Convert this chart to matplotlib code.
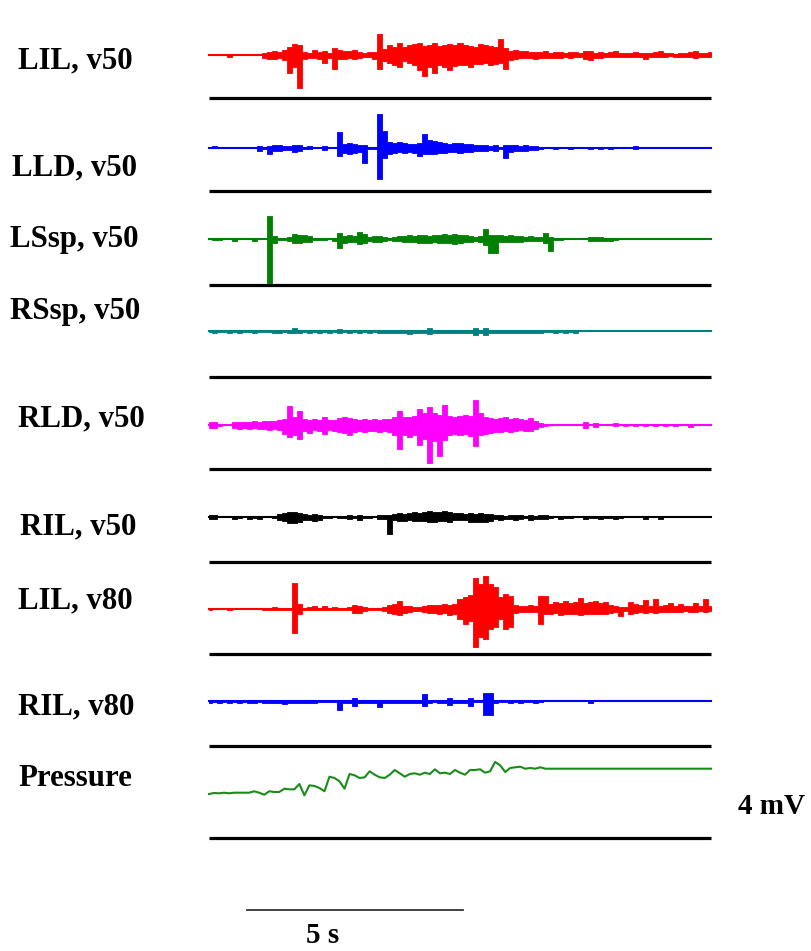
import numpy as np
import matplotlib.pyplot as plt

# EMG envelopes, one value every 1/100 of the record.
# Amplitudes in picture units (1 unit ~ 0.043 mV), up = above baseline, down = below.
T = 11.62  # record length, s (5 s bar = 216 px)

labels = ['LIL, v50', 'LLD, v50', 'LSsp, v50', 'RSsp, v50', 'RLD, v50',
          'RIL, v50', 'LIL, v80', 'RIL, v80']
colors = ['#ff0000', '#0000ff', '#008000', '#008080', '#ff00ff',
          '#000000', '#ff0000', '#0000ff']

lil50_up = [0, 0, 0, 0, 0, 0, 0, 0, 0, 0,
            0, 2, 3, 4, 3, 5, 8, 11, 10, 3,
            2, 5, 3, 4, 2, 7, 5, 4, 4, 5,
            3, 2, 3, 3, 21, 6, 10, 8, 12, 8,
            10, 11, 12, 9, 10, 12, 9, 10, 11, 10,
            12, 10, 9, 8, 11, 10, 9, 8, 16, 7,
            4, 5, 4, 4, 3, 3, 3, 4, 2, 3,
            3, 2, 3, 3, 2, 4, 4, 2, 3, 2,
            3, 4, 2, 2, 2, 3, 2, 2, 2, 3,
            4, 2, 2, 1, 2, 2, 3, 4, 2, 2,
            3]
lil50_dn = [0, 0, 0, 0, 2, 0, 0, 0, 0, 0,
            0, 3, 4, 4, 3, 5, 18, 12, 33, 4,
            3, 3, 4, 8, 3, 14, 4, 4, 3, 4,
            3, 2, 2, 4, 14, 6, 8, 10, 12, 6,
            8, 10, 15, 21, 12, 18, 10, 12, 15, 11,
            10, 10, 12, 9, 9, 8, 10, 9, 8, 14,
            5, 4, 3, 3, 3, 4, 3, 3, 3, 3,
            3, 2, 3, 2, 2, 4, 5, 3, 3, 2,
            2, 2, 2, 2, 2, 2, 2, 4, 2, 2,
            2, 2, 1, 2, 2, 2, 2, 3, 2, 2,
            2]

lld50_up = [0, 2, 0, 0, 0, 0, 0, 0, 0, 0,
            2, 1, 2, 3, 3, 2, 2, 3, 3, 1,
            2, 0, 0, 2, 0, 0, 16, 4, 5, 4,
            3, 3, 1, 1, 34, 17, 6, 5, 6, 5,
            4, 4, 5, 14, 8, 7, 6, 5, 4, 5,
            5, 4, 4, 3, 3, 3, 2, 3, 1, 3,
            3, 3, 2, 3, 2, 2, 1, 0, 0, 1,
            0, 0, 1, 0, 0, 0, 1, 0, 1, 0,
            1, 0, 0, 0, 0, 2, 0, 0, 0, 0,
            0, 0, 0, 0, 0, 0, 0, 0, 0, 0,
            0]
lld50_dn = [0, 0, 0, 0, 0, 0, 0, 0, 0, 0,
            3, 1, 6, 3, 3, 2, 2, 4, 3, 1,
            1, 0, 0, 2, 0, 0, 8, 5, 6, 5,
            4, 15, 1, 1, 31, 10, 6, 5, 4, 5,
            4, 5, 8, 6, 6, 6, 5, 5, 4, 4,
            5, 4, 4, 3, 3, 3, 2, 3, 1, 10,
            4, 3, 3, 3, 2, 2, 1, 0, 0, 1,
            0, 0, 1, 0, 0, 0, 1, 0, 1, 0,
            1, 0, 0, 0, 0, 1, 0, 0, 0, 0,
            0, 0, 0, 0, 0, 0, 0, 0, 0, 0,
            0]

lssp50_up = [0, 0, 0, 0, 0, 0, 0, 0, 0, 0,
             0, 0, 23, 3, 1, 1, 2, 5, 4, 4,
             3, 1, 1, 1, 0, 1, 6, 3, 4, 3,
             7, 5, 2, 3, 3, 2, 1, 2, 3, 3,
             4, 3, 4, 4, 3, 4, 4, 5, 4, 5,
             4, 4, 3, 2, 3, 10, 4, 4, 4, 3,
             4, 3, 3, 2, 3, 2, 2, 6, 2, 1,
             1, 0, 0, 0, 0, 0, 2, 2, 2, 1,
             1, 1, 0, 0, 0, 0, 0, 0, 0, 0,
             0, 0, 0, 0, 0, 0, 0, 0, 0, 0,
             0]
lssp50_dn = [0, 1, 1, 0, 0, 2, 0, 0, 0, 2,
             0, 0, 44, 4, 1, 1, 2, 4, 4, 3,
             3, 1, 1, 1, 0, 2, 9, 4, 3, 3,
             5, 4, 2, 3, 3, 2, 1, 2, 2, 3,
             3, 3, 4, 4, 4, 3, 4, 4, 4, 5,
             4, 3, 3, 2, 3, 6, 14, 14, 3, 3,
             3, 3, 3, 2, 2, 2, 2, 4, 12, 1,
             1, 0, 0, 0, 0, 0, 2, 2, 2, 2,
             2, 1, 0, 0, 0, 0, 0, 0, 0, 0,
             0, 0, 0, 0, 0, 0, 0, 0, 0, 0,
             0]

rssp50_up = [0, 0, 0, 0, 0, 0, 0, 0, 0, 0,
             0, 0, 0, 0, 0, 1, 1, 3, 1, 0,
             0, 0, 0, 0, 0, 0, 2, 0, 0, 0,
             0, 0, 0, 0, 1, 1, 1, 1, 1, 1,
             1, 1, 1, 1, 3, 1, 1, 1, 1, 1,
             1, 1, 1, 3, 1, 3, 1, 1, 1, 1,
             1, 1, 1, 1, 1, 1, 1, 0, 0, 0,
             0, 0, 0, 0, 0, 0, 0, 0, 0, 0,
             0, 0, 0, 0, 0, 0, 0, 0, 0, 0,
             0, 0, 0, 0, 0, 0, 0, 0, 0, 0,
             0]
rssp50_dn = [1, 2, 1, 1, 2, 1, 2, 1, 1, 2,
             1, 1, 1, 2, 2, 1, 2, 2, 2, 1,
             2, 1, 2, 1, 2, 1, 2, 1, 2, 1,
             2, 1, 2, 1, 2, 2, 2, 2, 2, 2,
             3, 2, 2, 2, 3, 2, 2, 2, 2, 2,
             2, 2, 2, 4, 2, 4, 2, 2, 2, 2,
             2, 2, 2, 2, 2, 2, 2, 1, 1, 2,
             1, 2, 1, 2, 0, 0, 0, 0, 0, 0,
             0, 0, 0, 0, 0, 0, 0, 0, 0, 0,
             0, 0, 0, 0, 0, 0, 0, 0, 0, 0,
             0]

rld50_up = [3, 3, 1, 0, 0, 3, 3, 3, 3, 4,
            3, 4, 4, 4, 5, 6, 19, 8, 14, 6,
            5, 6, 5, 8, 5, 5, 7, 8, 7, 6,
            5, 6, 5, 6, 5, 6, 6, 8, 14, 8,
            8, 9, 16, 12, 18, 12, 10, 20, 9, 8,
            9, 10, 9, 25, 12, 8, 7, 6, 7, 8,
            6, 7, 6, 5, 7, 4, 2, 1, 0, 0,
            0, 0, 0, 0, 0, 3, 0, 2, 0, 0,
            0, 2, 0, 0, 0, 0, 0, 0, 0, 0,
            0, 0, 0, 0, 0, 0, 0, 0, 0, 0,
            0]
rld50_dn = [3, 3, 1, 0, 0, 3, 4, 3, 4, 3,
            4, 4, 5, 4, 5, 9, 12, 10, 14, 6,
            8, 5, 6, 9, 5, 6, 7, 8, 10, 7,
            6, 7, 6, 6, 7, 6, 7, 10, 24, 10,
            12, 10, 20, 14, 38, 16, 31, 15, 10, 9,
            10, 9, 11, 21, 10, 9, 8, 7, 7, 6,
            7, 6, 5, 6, 6, 4, 2, 1, 0, 0,
            0, 0, 0, 0, 0, 3, 0, 2, 0, 0,
            0, 1, 0, 1, 0, 1, 0, 1, 0, 1,
            0, 1, 0, 1, 0, 0, 2, 0, 0, 0,
            0]

ril50_up = [2, 2, 0, 0, 0, 1, 1, 0, 1, 1,
            1, 0, 0, 1, 3, 4, 5, 5, 4, 3,
            2, 3, 2, 1, 1, 0, 1, 1, 2, 1,
            2, 1, 1, 0, 2, 2, 2, 3, 4, 3,
            4, 5, 4, 5, 6, 5, 5, 6, 5, 4,
            4, 3, 4, 3, 4, 3, 3, 2, 2, 1,
            2, 2, 2, 1, 2, 1, 2, 2, 1, 0,
            1, 1, 1, 0, 0, 1, 1, 1, 1, 1,
            1, 1, 1, 0, 0, 0, 0, 0, 0, 0,
            0, 0, 0, 0, 0, 0, 0, 0, 0, 0,
            0]
ril50_dn = [2, 2, 0, 0, 0, 2, 1, 0, 2, 1,
            2, 0, 0, 1, 3, 4, 6, 6, 5, 3,
            3, 4, 3, 1, 1, 0, 1, 1, 2, 1,
            3, 1, 1, 0, 2, 2, 17, 3, 4, 4,
            3, 4, 4, 4, 5, 5, 4, 4, 5, 3,
            3, 3, 5, 5, 5, 5, 4, 2, 3, 2,
            2, 3, 2, 1, 3, 2, 2, 2, 1, 0,
            2, 1, 1, 0, 0, 2, 1, 1, 2, 1,
            1, 2, 1, 0, 0, 0, 0, 2, 0, 0,
            2, 0, 0, 0, 0, 0, 0, 0, 0, 0,
            0]

lil80_up = [0, 0, 0, 0, 0, 0, 0, 0, 0, 0,
            0, 0, 0, 2, 0, 0, 1, 26, 5, 1,
            2, 3, 1, 3, 1, 2, 1, 1, 2, 4,
            3, 2, 1, 1, 1, 2, 4, 5, 8, 3,
            3, 2, 2, 3, 4, 4, 4, 5, 4, 5,
            10, 12, 14, 31, 25, 33, 25, 22, 12, 15,
            13, 4, 3, 3, 4, 3, 13, 13, 5, 7,
            6, 8, 6, 7, 11, 6, 7, 8, 6, 7,
            4, 3, 2, 2, 7, 5, 4, 9, 3, 10,
            3, 4, 6, 3, 5, 3, 3, 6, 3, 10,
            3]
lil80_dn = [1, 0, 0, 0, 1, 0, 0, 0, 0, 0,
            0, 1, 1, 1, 1, 1, 1, 24, 5, 1,
            1, 1, 1, 1, 1, 1, 1, 1, 1, 4,
            4, 2, 1, 1, 1, 2, 4, 5, 6, 4,
            3, 2, 2, 3, 4, 4, 5, 4, 6, 5,
            10, 15, 12, 38, 28, 30, 20, 18, 10, 20,
            18, 4, 3, 3, 3, 3, 15, 5, 5, 4,
            6, 5, 5, 5, 6, 5, 5, 5, 5, 5,
            4, 3, 7, 2, 5, 4, 3, 4, 3, 4,
            3, 3, 3, 3, 3, 2, 3, 3, 2, 3,
            2]

ril80_up = [0, 0, 0, 0, 0, 0, 0, 0, 0, 0,
            0, 0, 0, 0, 0, 1, 1, 0, 0, 0,
            0, 0, 0, 0, 0, 0, 0, 0, 0, 3,
            0, 0, 0, 1, 1, 0, 0, 0, 0, 0,
            0, 0, 1, 7, 1, 0, 0, 0, 3, 0,
            0, 0, 3, 0, 0, 8, 8, 0, 0, 1,
            0, 1, 0, 0, 0, 0, 0, 0, 0, 0,
            0, 0, 0, 0, 0, 0, 1, 0, 0, 0,
            0, 0, 0, 0, 0, 0, 0, 0, 0, 0,
            0, 0, 0, 0, 0, 0, 0, 0, 0, 0,
            0]
ril80_dn = [2, 1, 2, 1, 2, 1, 2, 1, 2, 2,
            1, 2, 2, 2, 2, 3, 2, 2, 2, 2,
            2, 2, 1, 1, 1, 1, 9, 2, 2, 5,
            2, 2, 2, 2, 6, 2, 2, 2, 2, 2,
            2, 2, 2, 5, 2, 1, 2, 2, 4, 2,
            2, 2, 5, 1, 1, 14, 14, 2, 1, 1,
            2, 1, 2, 1, 1, 2, 1, 0, 0, 0,
            0, 0, 0, 0, 0, 0, 2, 0, 0, 0,
            0, 0, 0, 0, 0, 0, 0, 0, 0, 0,
            0, 0, 0, 0, 0, 0, 0, 0, 0, 0,
            0]

# pressure rise above its starting level, same picture units
pressure = [0, 1, 0.7, 1.3, 0.7, 1.3, 1.3, 1.3, 1.3, 2.7,
            1.3, -0.7, 2.7, 2, 2, 5.3, 4.7, 4.7, 10, -1.3,
            8.7, 8, 6, 2.7, 17.3, 16, 12.7, 5.3, 20, 18.7,
            16, 16.7, 22.7, 19.3, 16.7, 16, 19.3, 24, 20.7, 17.3,
            20, 20.7, 19.3, 21.3, 20, 24.7, 20.7, 21.3, 20, 24,
            21.3, 19.3, 24, 24, 24.7, 21.3, 22.7, 32, 28.7, 22,
            26, 26.7, 27.3, 25.3, 26, 25.3, 26.7, 25.3, 25.3, 25.3,
            25.3, 25.3, 25.3, 25.3, 25.3, 25.3, 25.3, 25.3, 25.3, 25.3,
            25.3, 25.3, 25.3, 25.3, 25.3, 25.3, 25.3, 25.3, 25.3, 25.3,
            25.3, 25.3, 25.3, 25.3, 25.3, 25.3, 25.3, 25.3, 25.3, 25.3,
            25.3]

ups = [lil50_up, lld50_up, lssp50_up, rssp50_up, rld50_up, ril50_up, lil80_up, ril80_up]
dns = [lil50_dn, lld50_dn, lssp50_dn, rssp50_dn, rld50_dn, ril50_dn, lil80_dn, ril80_dn]

# layout (pixels from top of the 811x951 picture)
W, H = 811, 951
X0, X1 = 209, 711
base_px = [55, 148, 239, 331, 425, 517, 609, 701]
sep_px = [98, 191, 285, 377, 469, 562, 654, 746, 838]
press_px = 794
label_pos = [(18, 68), (12, 175), (10, 247), (10, 319), (18, 426),
             (20, 534), (18, 608), (18, 714)]

s_per_px = T / (X1 - X0)

fig = plt.figure(figsize=(W / 100, H / 100), dpi=100)
ax = fig.add_axes([0, 0, 1, 1])
ax.set_xlim(-X0 * s_per_px, (W - X0) * s_per_px)
ax.set_ylim(0, H)
ax.axis('off')

t = np.linspace(0, T, 101)
for up, dn, py, c in zip(ups, dns, base_px, colors):
    yb = H - py
    ax.plot([0, T], [yb, yb], color=c, lw=1.5)
    ax.fill_between(t, yb - np.array(dn), yb + np.array(up), step='mid',
                    color=c, lw=0.6)

ax.plot(t, H - press_px + np.array(pressure), color='#1a8c1a', lw=1.5)

for py in sep_px:
    ax.plot([0, T], [H - py, H - py], color='black', lw=2.3, solid_capstyle='butt')

# 5 s scale bar
bar_y = H - 910
ax.plot([38 * s_per_px, 38 * s_per_px + 5], [bar_y, bar_y], color='#333333', lw=1.3)

font = dict(family='Liberation Serif', weight='bold')
for lab, (x, y) in zip(labels, label_pos):
    fig.text(x / W, 1 - y / H, lab, ha='left', va='baseline', size=22.2, **font)
fig.text(18 / W, 1 - 786 / H, 'Pressure', ha='left', va='baseline', size=22.2, **font)
fig.text(738 / W, 1 - 814 / H, '4 mV', ha='left', va='baseline', size=21, **font)
fig.text(306 / W, 1 - 943 / H, '5 s', ha='left', va='baseline', size=21, **font)

fig.savefig('out.png', dpi=100, facecolor='white')
